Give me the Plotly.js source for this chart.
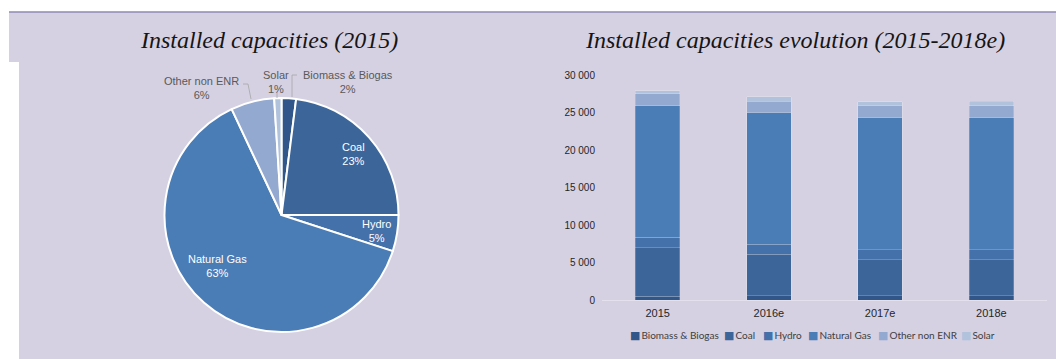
<!DOCTYPE html>
<html>
<head>
<meta charset="utf-8">
<script src="https://cdn.plot.ly/plotly-3.0.1.min.js"></script>
<style>html,body{margin:0;padding:0;background:#fff;}#chart{width:1056px;height:359px;}</style>
</head>
<body>
<div id="chart"></div>
<script>
// ---- data ----
var sources = ['Biomass & Biogas', 'Coal', 'Hydro', 'Natural Gas', 'Other non ENR', 'Solar'];
var pieShares = [2, 23, 5, 63, 6, 1];              // % of installed capacity, 2015
var years = ['2015', '2016e', '2017e', '2018e'];
var biomass = [500, 600, 600, 600];
var coal = [6470, 5500, 4770, 4770];
var hydro = [1390, 1330, 1330, 1330];
var naturalGas = [17510, 17550, 17610, 17610];
var otherNonENR = [1640, 1520, 1600, 1600];
var solar = [360, 570, 530, 620];
var yTicks = [0, 5000, 10000, 15000, 20000, 25000, 30000];

// ---- styles ----
var colors = ['#30568a', '#3c6599', '#4471aa', '#4a7cb6', '#94a9d0', '#b1c2dc'];
var W = 1056, H = 359;
function px(x) { return x / W; }
function py(y) { return 1 - y / H; }
// pie label placement (pixels) and colour per slice
var pieLabelPos = [[348, 81.5], [353, 154], [376, 231], [217, 266], [201, 87.5], [276, 81.5]];
var pieLabelInside = [false, true, true, true, false, false];
// leader lines for the outside labels (pixel paths)
var leaderPaths = [
  [[297, 75], [292, 75], [292, 97]],
  [[243, 84], [248, 84], [251, 99]],
  [[277, 93], [277, 98]]
];
// legend item left positions (pixels)
var legendX = [628, 722, 761, 806, 876, 959];
var legendY = 335;

var series = [biomass, coal, hydro, naturalGas, otherNonENR, solar];
var traces = [];

traces.push({
  type: 'pie',
  labels: sources,
  values: pieShares,
  sort: false,
  direction: 'clockwise',
  rotation: 0,
  showlegend: false,
  marker: { colors: colors, line: { color: '#ffffff', width: 2 } },
  textinfo: 'none',
  hoverinfo: 'label+percent',
  domain: { x: [px(281.5 - 117), px(281.5 + 117)], y: [py(215 + 117), py(215 - 117)] }
});

for (var i = 0; i < sources.length; i++) {
  traces.push({
    type: 'bar',
    name: sources[i],
    x: years,
    y: series[i],
    xaxis: 'x',
    yaxis: 'y',
    showlegend: false,
    marker: { color: colors[i], line: { color: 'rgba(255,255,255,0.25)', width: 0.8 } }
  });
}

var annotations = [
  { xref: 'paper', yref: 'paper', x: px(269), y: py(40), xanchor: 'center', yanchor: 'middle',
    showarrow: false, text: '<i>Installed capacities (2015)</i>',
    font: { family: 'Liberation Serif, serif', size: 24, color: '#151515' } },
  { xref: 'paper', yref: 'paper', x: px(795), y: py(40), xanchor: 'center', yanchor: 'middle',
    showarrow: false, text: '<i>Installed capacities evolution (2015-2018e)</i>',
    font: { family: 'Liberation Serif, serif', size: 24, color: '#151515' } }
];

for (var k = 0; k < sources.length; k++) {
  annotations.push({
    xref: 'paper', yref: 'paper',
    x: px(pieLabelPos[k][0]), y: py(pieLabelPos[k][1]),
    xanchor: 'center', yanchor: 'middle', showarrow: false, align: 'center',
    text: sources[k] + '<br>' + pieShares[k] + '%',
    font: { family: 'Liberation Sans, Arial, sans-serif', size: 11,
            color: pieLabelInside[k] ? '#ffffff' : '#595959' }
  });
  annotations.push({
    xref: 'paper', yref: 'paper',
    x: px(legendX[k]), y: py(legendY),
    xanchor: 'left', yanchor: 'middle', showarrow: false,
    text: '<span style="color:' + colors[k] + ';font-family:DejaVu Sans;font-size:11px">■</span>' +
          '<span style="font-size:4px"> </span>' + sources[k],
    font: { family: 'Lato, Open Sans, sans-serif', size: 10, color: '#404040' }
  });
}

var shapes = [
  { type: 'rect', xref: 'paper', yref: 'paper', layer: 'below',
    x0: px(9), x1: 1, y0: py(62), y1: py(12), fillcolor: '#d5d1e3', line: { width: 0 } },
  { type: 'rect', xref: 'paper', yref: 'paper', layer: 'below',
    x0: px(19), x1: 1, y0: 0, y1: py(62), fillcolor: '#d5d1e3', line: { width: 0 } },
  { type: 'line', xref: 'paper', yref: 'paper', layer: 'below',
    x0: px(9), x1: 1, y0: py(12), y1: py(12), line: { color: '#8f89b3', width: 1.5 } }
];
leaderPaths.forEach(function (p) {
  var d = p.map(function (pt, j) { return (j ? 'L' : 'M') + px(pt[0]) + ',' + py(pt[1]); }).join(' ');
  shapes.push({ type: 'path', xref: 'paper', yref: 'paper', path: d,
                line: { color: '#a6a6a6', width: 0.8 } });
});

var layout = {
  width: W,
  height: H,
  margin: { l: 0, r: 0, t: 0, b: 0 },
  paper_bgcolor: '#ffffff',
  plot_bgcolor: 'rgba(0,0,0,0)',
  separators: '. ',
  barmode: 'stack',
  bargap: 0.6,
  showlegend: false,
  xaxis: {
    domain: [px(602), px(1047)],
    anchor: 'y',
    type: 'category',
    showgrid: false,
    zeroline: false,
    showline: true,
    linecolor: '#e4e1ec',
    linewidth: 1,
    ticks: '',
    ticklabelstandoff: 3,
    tickfont: { family: 'Liberation Sans, Arial, sans-serif', size: 11, color: '#262626' }
  },
  yaxis: {
    domain: [py(300), py(75)],
    anchor: 'x',
    range: [0, 30000],
    tickvals: yTicks,
    tickformat: ',',
    showgrid: false,
    zeroline: false,
    showline: false,
    ticks: '',
    ticklabelstandoff: 6,
    tickfont: { family: 'Liberation Sans, Arial, sans-serif', size: 10, color: '#262626' }
  },
  shapes: shapes,
  annotations: annotations
};

Plotly.newPlot('chart', traces, layout, { displayModeBar: false, staticPlot: true });
</script>
</body>
</html>
